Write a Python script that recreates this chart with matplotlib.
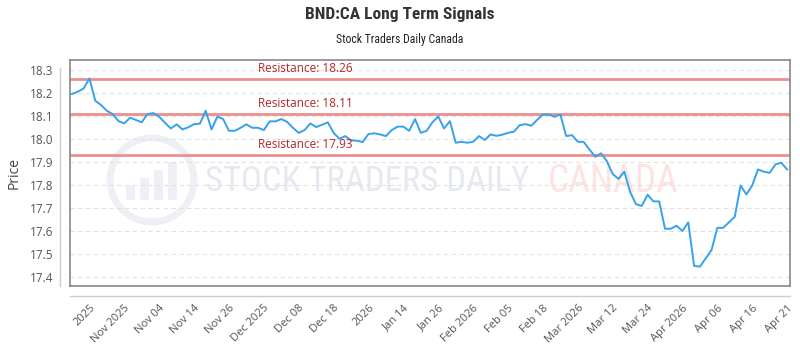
import matplotlib
matplotlib.use("Agg")
import matplotlib.pyplot as plt
from matplotlib import font_manager
from matplotlib.patches import Ellipse, Rectangle

available = {f.name for f in font_manager.fontManager.ttflist}
def pick(*names):
    for n in names:
        if n in available:
            return n
    return "DejaVu Sans"

narrow = pick("Liberation Sans Narrow", "Roboto Condensed", "DejaVu Sans")
base = pick("Open Sans", "Noto Sans", "DejaVu Sans")

title = "BND:CA Long Term Signals"
subtitle = "Stock Traders Daily Canada"
y_label = "Price"

prices = [
    18.196, 18.206, 18.220, 18.264, 18.167, 18.148, 18.123, 18.109, 18.078, 18.068,
    18.093, 18.083, 18.073, 18.109, 18.113, 18.097, 18.071, 18.046, 18.064, 18.042,
    18.051, 18.065, 18.067, 18.123, 18.042, 18.097, 18.087, 18.036, 18.036, 18.049,
    18.064, 18.049, 18.049, 18.039, 18.077, 18.077, 18.087, 18.075, 18.049, 18.027,
    18.039, 18.068, 18.052, 18.062, 18.073, 18.027, 18.001, 18.013, 17.994, 17.993,
    17.987, 18.022, 18.025, 18.020, 18.013, 18.039, 18.054, 18.054, 18.036, 18.087,
    18.027, 18.036, 18.073, 18.098, 18.046, 18.078, 17.984, 17.988, 17.984, 17.988,
    18.013, 17.996, 18.020, 18.014, 18.019, 18.027, 18.032, 18.060, 18.065, 18.058,
    18.083, 18.107, 18.107, 18.097, 18.107, 18.013, 18.017, 17.988, 17.988, 17.955,
    17.923, 17.938, 17.904, 17.848, 17.827, 17.858, 17.770, 17.717, 17.709, 17.758,
    17.729, 17.729, 17.610, 17.610, 17.623, 17.600, 17.638, 17.449, 17.445, 17.481,
    17.517, 17.614, 17.614, 17.638, 17.662, 17.798, 17.759, 17.798, 17.868, 17.858,
    17.853, 17.890, 17.897, 17.868,
]

tick_labels = ["2025", "Nov 2025", "Nov 04", "Nov 14", "Nov 26", "Dec 2025", "Dec 08",
               "Dec 18", "2026", "Jan 14", "Jan 26", "Feb 2026", "Feb 05", "Feb 18",
               "Mar 2026", "Mar 12", "Mar 24", "Apr 2026", "Apr 06", "Apr 16", "Apr 21"]
tick_first = 3
tick_step = 6

resistance_levels = [18.26, 18.11, 17.93]
resistance_labels = ["Resistance: 18.26", "Resistance: 18.11", "Resistance: 17.93"]
label_index = 32

y_ticks = [17.4, 17.5, 17.6, 17.7, 17.8, 17.9, 18.0, 18.1, 18.2, 18.3]

W, H = 720.0, 226.5
fig = plt.figure(figsize=(8, 3.5), dpi=100)
ax = fig.add_axes([70 / 800, 1 - 286 / 350, W / 800, H / 350])

x = list(range(len(prices)))

# watermark
ax.text((205 - 70) / W, 0.46, "STOCK TRADERS DAILY", transform=ax.transAxes, fontsize=25,
        family=narrow, color="#e6e9f0", ha="left", va="center", zorder=0)
ax.text((548 - 70) / W, 0.46, "CANADA", transform=ax.transAxes, fontsize=27,
        family=narrow, color="#fde3e3", ha="left", va="center", zorder=0)
cx, cy, r = (152 - 70) / W, (286 - 180) / H, 42
ax.add_patch(Ellipse((cx, cy), 2 * r / W, 2 * r / H, transform=ax.transAxes, fill=False,
                     ec="#eef0f5", lw=5, zorder=0))
for i, h in enumerate([14, 22, 30, 38]):
    ax.add_patch(Rectangle(((126 + i * 14 - 70) / W, (286 - 200) / H), 9 / W, h / H,
                           transform=ax.transAxes, fc="#eef0f5", ec="none", zorder=0))

ax.plot(x, prices, color="#36a2eb", lw=1.4, zorder=3)

for lvl, lab in zip(resistance_levels, resistance_labels):
    ax.axhline(lvl, color="#ec8f8f", lw=2.0, zorder=2)
    ax.annotate(lab, (label_index, lvl), xytext=(0, 3), textcoords="offset points",
                color="#b3262b", fontsize=8.5, family=base, ha="left", va="bottom", zorder=4)

ax.set_xlim(-0.34, len(prices) - 1 + 0.5)
ax.set_ylim(17.361, 18.346)
ax.set_yticks(y_ticks)
ax.set_yticklabels([f"{v:.1f}" for v in y_ticks])
ax.yaxis.grid(True, color="#e2e2e2", ls=(0, (4, 3)), lw=0.8)
ax.set_axisbelow(True)

tick_pos = [tick_first + i * tick_step for i in range(len(tick_labels))]
ax.set_xticks(tick_pos)
ax.set_xticklabels(tick_labels, rotation=45, ha="right", va="top", rotation_mode="anchor")
ax.tick_params(axis="x", length=0, pad=12, labelsize=8, labelcolor="#555555")
ax.tick_params(axis="y", length=0, pad=12, labelsize=8.5, labelcolor="#555555")
for lab in ax.get_xticklabels() + ax.get_yticklabels():
    lab.set_family(base)

for s in ax.spines.values():
    s.set_color("#888888")
    s.set_linewidth(1.2)

# separate axis lines
ax.plot([-10 / W, -10 / W], [0.0, (286 - 68) / H], transform=ax.transAxes,
        color="#cccccc", lw=1.0, clip_on=False)
ax.plot([0, 1], [-10 / H, -10 / H], transform=ax.transAxes,
        color="#cccccc", lw=1.0, clip_on=False)

ax.set_ylabel(y_label, fontsize=10, color="#444444", family=base, labelpad=6)

fig.text(0.5, 1 - 15 / 350, title, ha="center", va="center", fontsize=12.5,
         fontweight="bold", family=narrow, color="#333333")
fig.text(0.5, 1 - 40 / 350, subtitle, ha="center", va="center", fontsize=8.5,
         family=narrow, color="#222222")

fig.savefig("out.png", dpi=100)
